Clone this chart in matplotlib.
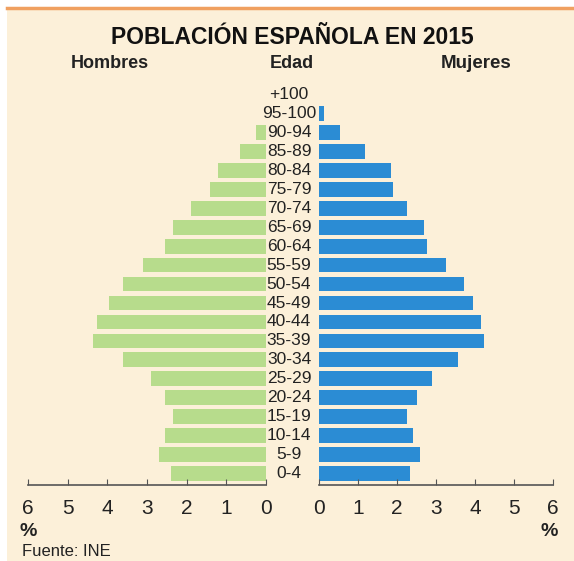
import matplotlib
matplotlib.use("Agg")
import matplotlib.pyplot as plt
import matplotlib.transforms as mtransforms
from matplotlib.patches import Rectangle
from matplotlib.lines import Line2D

# DATA
edades = ["0-4", "5-9", "10-14", "15-19", "20-24", "25-29", "30-34", "35-39",
          "40-44", "45-49", "50-54", "55-59", "60-64", "65-69", "70-74",
          "75-79", "80-84", "85-89", "90-94", "95-100", "+100"]
hombres = [2.4, 2.7, 2.55, 2.35, 2.55, 2.9, 3.6, 4.35, 4.25, 3.95, 3.6, 3.1,
           2.55, 2.35, 1.9, 1.4, 1.2, 0.65, 0.25, 0.0, 0.0]
mujeres = [2.33, 2.6, 2.4, 2.25, 2.5, 2.9, 3.56, 4.23, 4.15, 3.95, 3.72, 3.25,
           2.77, 2.7, 2.25, 1.9, 1.85, 1.18, 0.54, 0.12, 0.0]
ticks = [0, 1, 2, 3, 4, 5, 6]

plt.rcParams['font.family'] = ['Liberation Sans', 'DejaVu Sans']

crema = '#fcf0d9'
verde = '#b7dc8c'
azul = '#2b8cd4'
texto = '#222222'

fig = plt.figure(figsize=(5.74, 5.61), dpi=100)
fig.patch.set_facecolor('white')

W, H = 574, 561
# cream panel with orange top line (drawn behind the axes)
fig.patches.append(Rectangle((7 / W, 0), 1 - 7 / W, 1 - 8 / H, transform=fig.transFigure,
                             facecolor=crema, edgecolor='none', zorder=-10))
fig.lines.append(Line2D([7 / W, 1], [1 - 8 / H, 1 - 8 / H], transform=fig.transFigure,
                        color='#f0a060', lw=2.5, zorder=-9))

y_bot = 1 - 485 / H
y_top = 1 - 85 / H
ax_h = fig.add_axes([28 / W, y_bot, (266 - 28) / W, y_top - y_bot])
ax_m = fig.add_axes([319 / W, y_bot, (553 - 319) / W, y_top - y_bot])

pos = list(range(len(edades)))
ax_h.barh(pos, hombres, height=0.78, color=verde)
ax_m.barh(pos, mujeres, height=0.78, color=azul)

for ax in (ax_h, ax_m):
    ax.set_facecolor('none')
    ax.set_ylim(-0.6, len(edades) - 0.5)
    for s in ['top', 'left', 'right']:
        ax.spines[s].set_visible(False)
    ax.spines['bottom'].set_color('#555555')
    ax.spines['bottom'].set_linewidth(1.2)
    ax.set_yticks([])
    ax.set_xticks(ticks)
    ax.tick_params(axis='x', direction='in', length=4, color='#555555',
                   labelsize=15, pad=10, labelcolor=texto)

ax_h.set_xlim(6, 0)
ax_m.set_xlim(0, 6)

# age labels in the middle
trans = mtransforms.blended_transform_factory(fig.transFigure, ax_h.transData)
for i, e in enumerate(edades):
    ax_h.text(289 / W, i, e, transform=trans, ha='center', va='center',
              fontsize=12.5, color=texto, clip_on=False)

fig.text(292 / W, 1 - 37 / H, 'POBLACIÓN ESPAÑOLA EN 2015', ha='center', va='center',
         fontsize=16.5, fontweight='bold', color='#111111')
fig.text(110 / W, 1 - 64 / H, 'Hombres', ha='center', va='center',
         fontsize=13, fontweight='bold', color=texto)
fig.text(292 / W, 1 - 64 / H, 'Edad', ha='center', va='center',
         fontsize=13, fontweight='bold', color=texto)
fig.text(476 / W, 1 - 64 / H, 'Mujeres', ha='center', va='center',
         fontsize=13.5, fontweight='bold', color=texto)
fig.text(28 / W, 1 - 531 / H, '%', ha='center', va='center', fontsize=14,
         fontweight='bold', color=texto)
fig.text(549 / W, 1 - 531 / H, '%', ha='center', va='center', fontsize=14,
         fontweight='bold', color=texto)
fig.text(22 / W, 1 - 552 / H, 'Fuente: INE', ha='left', va='center', fontsize=12, color=texto)

fig.savefig('out.png', dpi=100, facecolor=fig.get_facecolor())
